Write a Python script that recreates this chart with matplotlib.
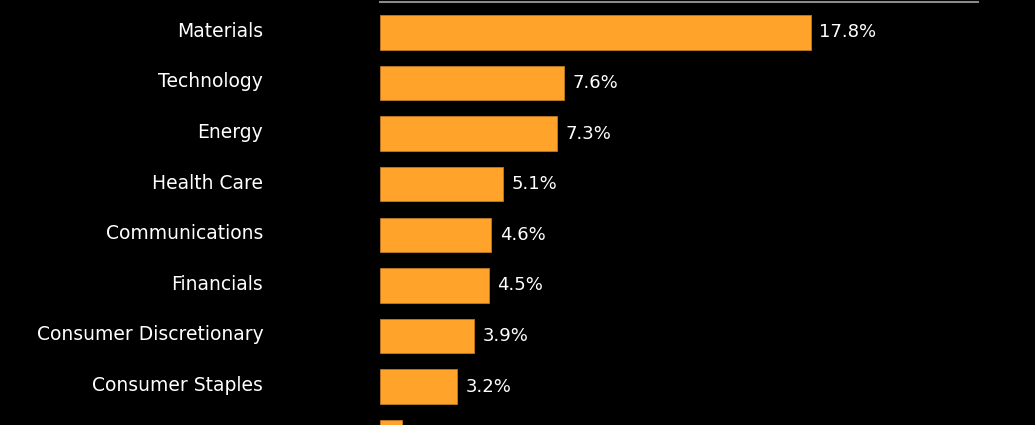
import matplotlib.pyplot as plt
import matplotlib.transforms as mtransforms
import numpy as np

# sector returns (%), ordered top to bottom
sectors = ['Materials', 'Technology', 'Energy', 'Health Care', 'Communications',
           'Financials', 'Consumer Discretionary', 'Consumer Staples', 'Industrials']
returns = [17.8, 7.6, 7.3, 5.1, 4.6, 4.5, 3.9, 3.2, 0.9]

W, H = 1035, 425
fig = plt.figure(figsize=(W / 100, H / 100), dpi=100, facecolor='black')
ax = fig.add_axes([380 / W, 0, (978 - 380) / W, (H - 1.5) / H])
ax.set_facecolor('black')

y = np.arange(len(sectors))
ax.barh(y, returns, height=0.68, color='#FFA32B', edgecolor='#C07A20', linewidth=0.6)

for yi, v in zip(y, returns):
    if yi < 8:
        ax.text(v + 0.35, yi, f'{v:.1f}%', va='center', ha='left', color='white',
                fontsize=13, family='DejaVu Sans')

ax.set_yticks(y)
ax.set_yticklabels(sectors, color='white', fontsize=13.5, family='DejaVu Sans')
ax.tick_params(axis='y', length=0, pad=84)
# nudge the category labels up a little
shift = mtransforms.ScaledTranslation(0, 3 / 100, fig.dpi_scale_trans)
for lab in ax.get_yticklabels():
    lab.set_transform(lab.get_transform() + shift)
ax.set_xticks([])
# limits after ticks, otherwise set_yticks widens them
ax.set_xlim(0, 24.7)
ax.set_ylim(7.76, -0.61)
for s in ['left', 'right', 'bottom']:
    ax.spines[s].set_visible(False)
ax.spines['top'].set_color('#8a8a8a')
ax.spines['top'].set_linewidth(1.5)

fig.savefig('out.png', dpi=100, facecolor='black')
